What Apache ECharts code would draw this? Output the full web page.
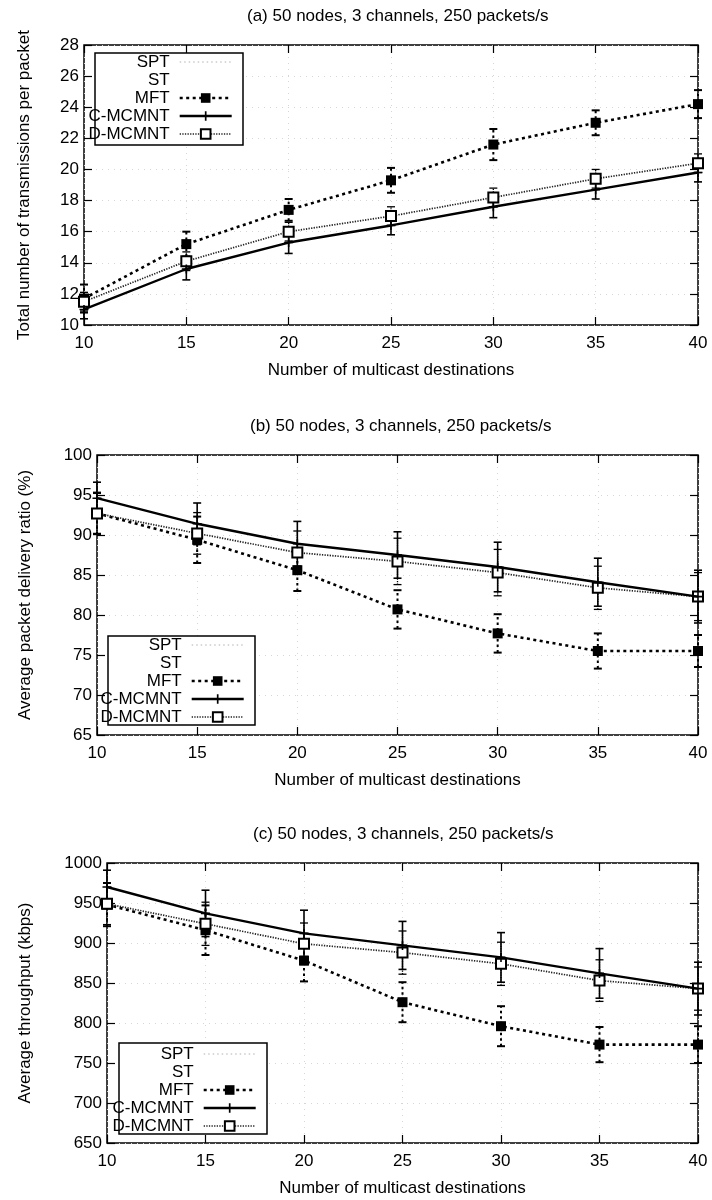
<!DOCTYPE html>
<html>
<head>
<meta charset="utf-8">
<script src="https://cdn.jsdelivr.net/npm/echarts@6/dist/echarts.min.js"></script>
<style>
  html, body { margin: 0; padding: 0; background: #fff; }
  #chart { width: 712px; height: 1200px; }
</style>
</head>
<body>
<div id="chart"></div>
<script>
// Number of multicast destinations (x values shared by all three panels)
const destinations = [10, 15, 20, 25, 30, 35, 40];
const methods = ['SPT', 'ST', 'MFT', 'C-MCMNT', 'D-MCMNT'];

// (a) total number of transmissions per packet, mean and error half-width
const txMFT = [11.7, 15.2, 17.4, 19.3, 21.6, 23.0, 24.2];
const txMFTErr = [0.9, 0.8, 0.7, 0.8, 1.0, 0.8, 0.9];
const txC = [11.0, 13.6, 15.3, 16.4, 17.6, 18.7, 19.8];
const txCErr = [0.6, 0.7, 0.7, 0.6, 0.7, 0.6, 0.6];
const txD = [11.5, 14.1, 16.0, 17.0, 18.2, 19.4, 20.4];
const txDErr = [0.6, 0.6, 0.6, 0.6, 0.6, 0.6, 0.6];

// (b) average packet delivery ratio (%)
const pdrMFT = [92.7, 89.4, 85.6, 80.7, 77.7, 75.5, 75.5];
const pdrMFTErr = [2.6, 2.9, 2.6, 2.4, 2.4, 2.2, 2.0];
const pdrC = [94.6, 91.4, 88.9, 87.5, 86.0, 84.1, 82.3];
const pdrCErr = [2.0, 2.6, 2.8, 2.9, 3.1, 3.0, 3.3];
const pdrD = [92.7, 90.2, 87.8, 86.7, 85.3, 83.4, 82.3];
const pdrDErr = [2.5, 2.6, 2.7, 2.9, 2.9, 2.7, 3.0];

// (c) average throughput (kbps)
const thrMFT = [948, 916, 878, 826, 796, 773, 773];
const thrMFTErr = [27, 31, 26, 25, 25, 22, 23];
const thrC = [970, 937, 912, 897, 882, 862, 843];
const thrCErr = [21, 29, 29, 30, 31, 31, 33];
const thrD = [949, 924, 899, 888, 874, 853, 843];
const thrDErr = [26, 27, 26, 27, 27, 26, 27];

const FONT = '"Liberation Sans", Arial, Helvetica, sans-serif';
const FS = 17;
const BLACK = '#000';

const panels = [
  {
    title: '(a) 50 nodes, 3 channels, 250 packets/s', titleLeft: 247, titleTop: 8,
    yName: 'Total number of transmissions per packet', yNameGap: 51,
    yMin: 10, yMax: 28, yStep: 2,
    grid: { left: 84, top: 45, right: 14, height: 280 },
    mft: txMFT, mftErr: txMFTErr, c: txC, cErr: txCErr, d: txD, dErr: txDErr,
    legend: { right: 479, top: 53 }, box: { x: 95, y: 53, width: 148, height: 92 }
  },
  {
    title: '(b) 50 nodes, 3 channels, 250 packets/s', titleLeft: 250, titleTop: 418,
    yName: 'Average packet delivery ratio (%)', yNameGap: 63,
    yMin: 65, yMax: 100, yStep: 5,
    grid: { left: 97, top: 455, right: 14, height: 280 },
    mft: pdrMFT, mftErr: pdrMFTErr, c: pdrC, cErr: pdrCErr, d: pdrD, dErr: pdrDErr,
    legend: { right: 467, top: 636 }, box: { x: 108, y: 636, width: 147, height: 89 }
  },
  {
    title: '(c) 50 nodes, 3 channels, 250 packets/s', titleLeft: 253, titleTop: 826,
    yName: 'Average throughput (kbps)', yNameGap: 73,
    yMin: 650, yMax: 1000, yStep: 50,
    grid: { left: 107, top: 863, right: 14, height: 280 },
    mft: thrMFT, mftErr: thrMFTErr, c: thrC, cErr: thrCErr, d: thrD, dErr: thrDErr,
    legend: { right: 455, top: 1045 }, box: { x: 119, y: 1043, width: 148, height: 91 }
  }
];

const textBase = { color: BLACK, fontFamily: FONT, fontSize: FS };
const tickStyle = { color: BLACK, width: 1.2 };
const gridLine = { color: '#d6d6d6', type: [1, 5], width: 1 };
const PLUS = 'path://M0,3.3H8V4.7H0Z M3.3,0H4.7V8H3.3Z';

function pairs(ys) { return destinations.map((x, i) => [x, ys[i]]); }
function bars(ys, errs) { return destinations.map((x, i) => [x, ys[i] - errs[i], ys[i] + errs[i]]); }

// Vertical error bar with short horizontal caps, positioned through the axes
function errorBar(dash, width) {
  return function (params, api) {
    const x = api.value(0);
    const lo = api.coord([x, api.value(1)]);
    const hi = api.coord([x, api.value(2)]);
    const half = 4;
    const capStyle = { stroke: BLACK, lineWidth: width };
    return {
      type: 'group',
      children: [
        { type: 'line', shape: { x1: lo[0], y1: lo[1], x2: hi[0], y2: hi[1] },
          style: { stroke: BLACK, lineWidth: width, lineDash: dash } },
        { type: 'line', shape: { x1: lo[0] - half, y1: lo[1], x2: lo[0] + half, y2: lo[1] }, style: capStyle },
        { type: 'line', shape: { x1: hi[0] - half, y1: hi[1], x2: hi[0] + half, y2: hi[1] }, style: capStyle }
      ]
    };
  };
}

const lineStyles = {
  'MFT': { color: BLACK, width: 2.6, type: [3, 3.5] },
  'C-MCMNT': { color: BLACK, width: 2.4, type: 'solid' },
  'D-MCMNT': { color: '#222', width: 1.7, type: [1.3, 1.3] }
};

const option = {
  animation: false,
  backgroundColor: '#fff',
  title: [], grid: [], xAxis: [], yAxis: [], legend: [], series: [], graphic: []
};

panels.forEach((p, i) => {
  option.title.push({
    text: p.title, left: p.titleLeft, top: p.titleTop, padding: 0,
    textStyle: Object.assign({ fontWeight: 'normal' }, textBase)
  });
  option.grid.push(Object.assign({ show: true, borderColor: BLACK, borderWidth: 1.5, backgroundColor: 'transparent' }, p.grid));

  option.xAxis.push({
    gridIndex: i, type: 'value', min: 10, max: 40, interval: 5, position: 'bottom',
    axisLine: { show: false },
    axisTick: { inside: true, length: 8, lineStyle: tickStyle },
    axisLabel: Object.assign({ margin: 10, formatter: v => String(v) }, textBase),
    splitLine: { show: true, lineStyle: gridLine },
    name: 'Number of multicast destinations', nameLocation: 'middle', nameGap: 37,
    nameTextStyle: textBase
  });
  option.xAxis.push({
    gridIndex: i, type: 'value', min: 10, max: 40, interval: 5, position: 'top',
    axisLine: { show: false },
    axisTick: { inside: true, length: 8, lineStyle: tickStyle },
    axisLabel: { show: false }, splitLine: { show: false }
  });
  option.yAxis.push({
    gridIndex: i, type: 'value', min: p.yMin, max: p.yMax, interval: p.yStep, position: 'left',
    axisLine: { show: false },
    axisTick: { inside: true, length: 8, lineStyle: tickStyle },
    axisLabel: Object.assign({ margin: 5, formatter: v => String(v) }, textBase),
    splitLine: { show: true, lineStyle: gridLine },
    name: p.yName, nameLocation: 'middle', nameGap: p.yNameGap,
    nameTextStyle: textBase
  });
  option.yAxis.push({
    gridIndex: i, type: 'value', min: p.yMin, max: p.yMax, interval: p.yStep, position: 'right',
    axisLine: { show: false },
    axisTick: { inside: true, length: 8, lineStyle: tickStyle },
    axisLabel: { show: false }, splitLine: { show: false }
  });

  const ax = { xAxisIndex: 2 * i, yAxisIndex: 2 * i };

  // Key entries without drawn points
  option.series.push(Object.assign({
    type: 'line', name: 'SPT', data: [], symbol: 'none',
    itemStyle: { color: '#aaa', opacity: 0 },
    lineStyle: { color: '#b0b0b0', width: 1, type: [1.5, 3] }
  }, ax));
  option.series.push(Object.assign({
    type: 'line', name: 'ST', data: [], symbol: 'none',
    itemStyle: { color: '#fff', opacity: 0 },
    lineStyle: { color: '#fff', width: 1 }
  }, ax));

  // Error bars
  option.series.push(Object.assign({
    type: 'custom', name: 'MFT error', data: bars(p.mft, p.mftErr),
    encode: { x: 0, y: [1, 2] }, renderItem: errorBar([2.5, 3], 2), z: 3, clip: false
  }, ax));
  option.series.push(Object.assign({
    type: 'custom', name: 'C-MCMNT error', data: bars(p.c, p.cErr),
    encode: { x: 0, y: [1, 2] }, renderItem: errorBar(null, 1.6), z: 3, clip: false
  }, ax));
  option.series.push(Object.assign({
    type: 'custom', name: 'D-MCMNT error', data: bars(p.d, p.dErr),
    encode: { x: 0, y: [1, 2] }, renderItem: errorBar([1.2, 1.2], 1.3), z: 3, clip: false
  }, ax));

  // Mean curves
  option.series.push(Object.assign({
    type: 'line', name: 'MFT', data: pairs(p.mft), symbol: 'rect', symbolSize: 10,
    itemStyle: { color: BLACK }, lineStyle: lineStyles['MFT'], z: 5
  }, ax));
  option.series.push(Object.assign({
    type: 'line', name: 'C-MCMNT', data: pairs(p.c), symbol: PLUS, symbolSize: 9,
    itemStyle: { color: BLACK }, lineStyle: lineStyles['C-MCMNT'], z: 6
  }, ax));
  option.series.push(Object.assign({
    type: 'line', name: 'D-MCMNT', data: pairs(p.d), symbol: 'emptyRect', symbolSize: 10,
    itemStyle: { color: BLACK, borderColor: BLACK, borderWidth: 1.6 },
    lineStyle: lineStyles['D-MCMNT'], z: 5
  }, ax));

  // Key frame
  option.graphic.push({
    type: 'rect', shape: Object.assign({}, p.box), z: 3,
    style: { fill: '#fff', stroke: BLACK, lineWidth: 1.5 }
  });
  option.legend.push({
    data: methods, orient: 'vertical', align: 'right',
    right: p.legend.right, top: p.legend.top, padding: 0,
    itemWidth: 52, itemHeight: 12, itemGap: 0, selectedMode: false, z: 5,
    textStyle: Object.assign({ lineHeight: 18, padding: [0, 5, 0, 0] }, textBase),
    lineStyle: { width: 'inherit' }
  });
});

const chart = echarts.init(document.getElementById('chart'), null, { renderer: 'canvas' });
chart.setOption(option);
</script>
</body>
</html>
